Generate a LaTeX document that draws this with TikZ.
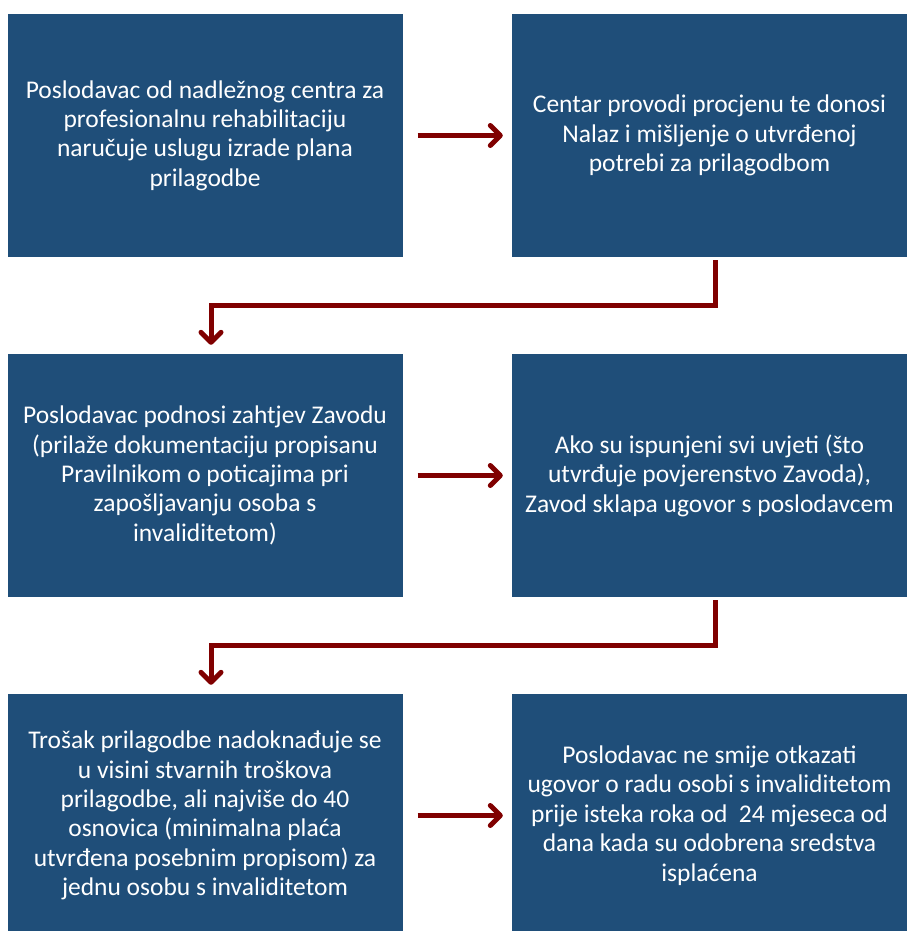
\documentclass[tikz,border=0pt]{standalone}
\usepackage{fontspec}
\setmainfont{Carlito}
\usetikzlibrary{arrows.meta}
\definecolor{boxblue}{RGB}{31,78,121}
\definecolor{arrred}{RGB}{128,0,0}
\tikzset{
  box/.style={fill=boxblue, draw=none, minimum width=395pt, minimum height=243pt,
    text=white, align=center, inner sep=0pt, font=\fontsize{25.5}{29.4}\selectfont},
  arr/.style={draw=arrred, line width=5pt, line join=miter,
    -{Straight Barb[length=10pt,width=20pt,line cap=round,line join=round]}}
}
\begin{document}
\begin{tikzpicture}[x=1pt,y=-1pt]
\useasboundingbox (0,0) rectangle (909,931);
\begin{scope}
\clip (0,0) rectangle (909,931);
\node[box] (b1) at (205,135.5) {Poslodavac od nadležnog centra za\\profesionalnu rehabilitaciju\\naručuje uslugu izrade plana\\prilagodbe};
\node[box] (b2) at (709.5,135.5) {Centar provodi procjenu te donosi\\Nalaz i mišljenje o utvrđenoj\\potrebi za prilagodbom};
\node[box] (b3) at (205,475.5) {Poslodavac podnosi zahtjev Zavodu\\(prilaže dokumentaciju propisanu\\Pravilnikom o poticajima pri\\zapošljavanju osoba s\\invaliditetom)};
\node[box] (b4) at (709.5,475.5) {Ako su ispunjeni svi uvjeti (što\\utvrđuje povjerenstvo Zavoda),\\Zavod sklapa ugovor s poslodavcem};
\node[box] (b5) at (205,815.5) {Trošak prilagodbe nadoknađuje se\\u visini stvarnih troškova\\prilagodbe, ali najviše do 40\\osnovica (minimalna plaća\\utvrđena posebnim propisom) za\\jednu osobu s invaliditetom};
\node[box] (b6) at (709.5,815.5) {Poslodavac ne smije otkazati\\ugovor o radu osobi s invaliditetom\\prije isteka roka od\ \ 24 mjeseca od\\dana kada su odobrena sredstva\\isplaćena};
\end{scope}
\draw[arr, shorten <=15pt, shorten >=9pt] (b1.east) -- (b2.west);
\draw[arr, shorten <=15pt, shorten >=9pt] (b3.east) -- (b4.west);
\draw[arr, shorten <=15pt, shorten >=9pt] (b5.east) -- (b6.west);
\coordinate (m1) at (715,305);
\coordinate (m2) at (715,645);
\draw[arr, shorten <=3pt, shorten >=9pt] ([xshift=5.5pt]b2.south) -- (m1) -| ([xshift=6pt]b3.north);
\draw[arr, shorten <=3pt, shorten >=9pt] ([xshift=5.5pt]b4.south) -- (m2) -| ([xshift=6pt]b5.north);
\end{tikzpicture}
\end{document}
